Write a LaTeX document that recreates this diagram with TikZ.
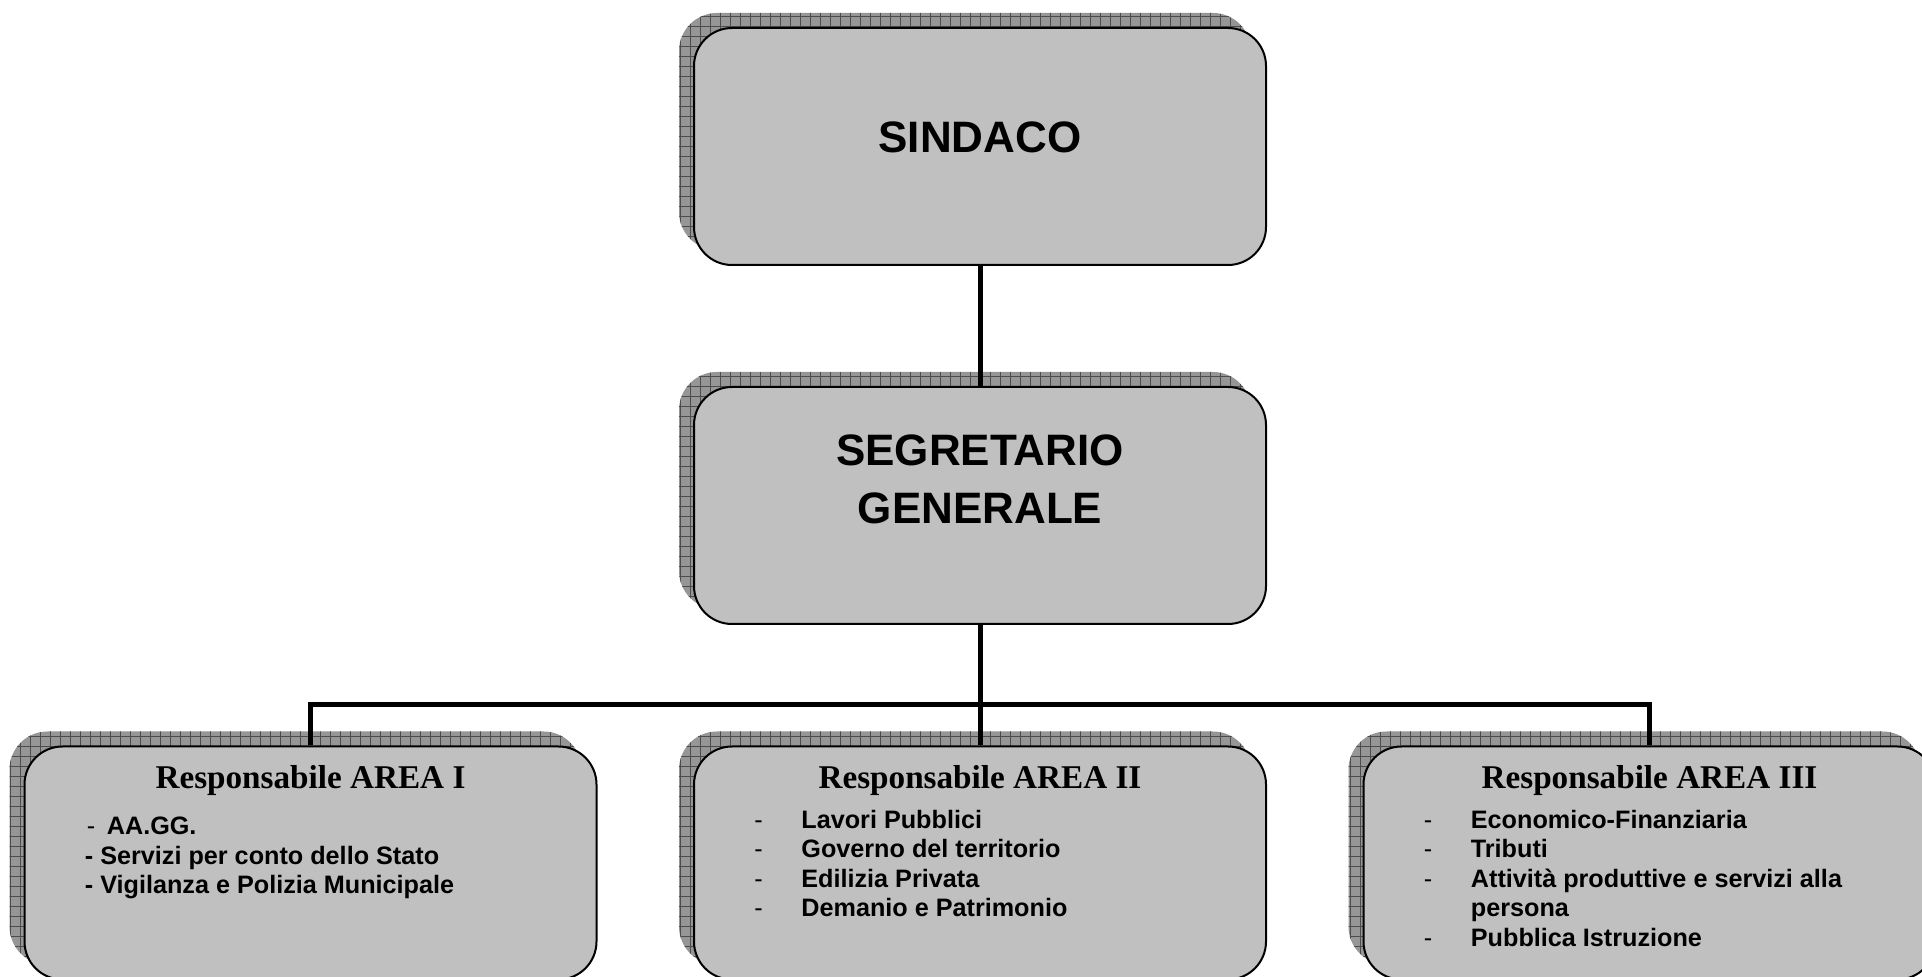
\documentclass[tikz,border=0pt]{standalone}
\usepackage{fontspec}
\setmainfont{Liberation Serif}
\setsansfont{Liberation Sans}
\usetikzlibrary{positioning, shadows, patterns.meta}

\definecolor{boxgray}{RGB}{192,192,192}
\definecolor{shadowgray}{RGB}{150,150,150}

\newcommand{\dashitem}[1]{\makebox[23.5pt][l]{\mdseries -}#1}

\tikzset{
  orgbox/.style={draw, rectangle, rounded corners=19pt, fill=boxgray, line width=1pt, minimum width=286pt, inner sep=0pt,
    general shadow={shadow xshift=-7.5pt, shadow yshift=7.5pt, fill=shadowgray},
    general shadow={shadow xshift=-7.5pt, shadow yshift=7.5pt, pattern={Hatch[distance=5pt, angle=0, line width=0.5pt]}, pattern color=black!70}},
  topbox/.style={orgbox, minimum height=118.5pt, align=center, font=\sffamily\bfseries\fontsize{22}{29}\selectfont},
  areabox/.style={orgbox, minimum height=116.5pt, font=\rmfamily\bfseries\fontsize{16.6}{20}\selectfont, text height=11.2pt, text depth=85.2pt},
  listtext/.style={anchor=north west, inner sep=0pt, align=left, font=\sffamily\bfseries\fontsize{12.6}{14.7}\selectfont},
  link/.style={line width=2.5pt},
}

\begin{document}
\begin{tikzpicture}[x=0.5pt, y=-0.5pt]
	\useasboundingbox (0,0) rectangle (1922,977);

	% Boxes
	\node [topbox, text height=16pt, text depth=9.5pt] (sindaco) at (980,146.5) {SINDACO};
	\node [topbox, below=60pt of sindaco, text height=45pt, text depth=26.5pt] (segretario) {SEGRETARIO\\GENERALE};
	\node [areabox, below=60.25pt of segretario] (area2) {Responsabile AREA II};
	\node [areabox, left=47.75pt of area2] (area1) {Responsabile AREA I};
	\node [areabox, right=47.75pt of area2] (area3) {Responsabile AREA III};
	\coordinate [below=40pt of segretario] (split);

	% Lines
	\draw [link] (sindaco) -- (segretario);
	\draw [link] (segretario) -- (split);
	\draw [link] (area1) |- (split) -| (area3);
	\draw [link] (split) -- (area2);

	% Lists
	\node [listtext] (list1) at ([xshift=30.5pt, yshift=-35.65pt]area1.north west) {\hspace*{1pt}{\mdseries -}\hspace{5.8pt}AA.GG.\\- Servizi per conto dello Stato\\- Vigilanza e Polizia Municipale};
	\node [listtext] (list2) at ([xshift=30.5pt, yshift=-32.15pt]area2.north west) {\dashitem{Lavori Pubblici}\\\dashitem{Governo del territorio}\\\dashitem{Edilizia Privata}\\\dashitem{Demanio e Patrimonio}};
	\node [listtext] (list3) at ([xshift=30.5pt, yshift=-32.15pt]area3.north west) {\dashitem{Economico-Finanziaria}\\\dashitem{Tributi}\\\dashitem{Attività produttive e servizi alla}\\\hspace*{23.5pt}persona\\\dashitem{Pubblica Istruzione}};

\end{tikzpicture}
\end{document}
